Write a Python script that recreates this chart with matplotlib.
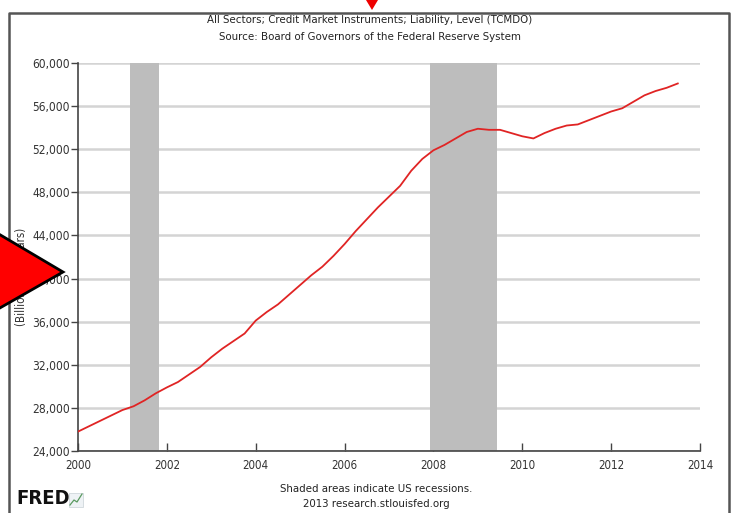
import matplotlib
matplotlib.use("Agg")
import matplotlib.pyplot as plt
from matplotlib.patches import Polygon, Rectangle
from matplotlib.lines import Line2D

# ---- data (quarterly, billions of dollars) ----
dates = [2000.0, 2000.25, 2000.5, 2000.75, 2001.0, 2001.25, 2001.5, 2001.75,
         2002.0, 2002.25, 2002.5, 2002.75, 2003.0, 2003.25, 2003.5, 2003.75,
         2004.0, 2004.25, 2004.5, 2004.75, 2005.0, 2005.25, 2005.5, 2005.75,
         2006.0, 2006.25, 2006.5, 2006.75, 2007.0, 2007.25, 2007.5, 2007.75,
         2008.0, 2008.25, 2008.5, 2008.75, 2009.0, 2009.25, 2009.5, 2009.75,
         2010.0, 2010.25, 2010.5, 2010.75, 2011.0, 2011.25, 2011.5, 2011.75,
         2012.0, 2012.25, 2012.5, 2012.75, 2013.0, 2013.25, 2013.5]
values = [25800, 26300, 26800, 27300, 27800, 28150, 28700, 29350,
          29900, 30400, 31100, 31800, 32700, 33500, 34200, 34900,
          36100, 36900, 37600, 38500, 39400, 40300, 41100, 42100,
          43200, 44400, 45500, 46600, 47600, 48600, 50000, 51100,
          51900, 52400, 53000, 53600, 53900, 53800, 53800, 53500,
          53200, 53000, 53500, 53900, 54200, 54300, 54700, 55100,
          55500, 55800, 56400, 57000, 57400, 57700, 58100]
recession_starts = [2001.17, 2007.92]
recession_ends = [2001.83, 2009.42]
y_ticks = [24000, 28000, 32000, 36000, 40000, 44000, 48000, 52000, 56000, 60000]
x_ticks = [2000, 2002, 2004, 2006, 2008, 2010, 2012, 2014]

W, H = 737, 513
fig = plt.figure(figsize=(W / 100, H / 100), dpi=100)
fig.patch.set_facecolor("white")

FONT = dict(family="DejaVu Sans", fontstretch="condensed")

ax = fig.add_axes([78 / W, (H - 451) / H, (700 - 78) / W, (451 - 63) / H])
ax.set_xlim(2000, 2014)
ax.set_ylim(24000, 60000)
ax.set_yticks(y_ticks)
ax.set_xticks(x_ticks)
ax.set_yticklabels([f"{v:,}" for v in y_ticks], **FONT)
ax.set_xticklabels([str(v) for v in x_ticks], **FONT)
ax.tick_params(axis="y", direction="out", length=5, width=1, color="#444444",
               labelsize=8.6, labelcolor="#333333", pad=1)
ax.tick_params(axis="x", direction="in", length=6, width=1, color="#444444",
               labelsize=8.3, labelcolor="#333333", pad=6)
for s in ["top", "right"]:
    ax.spines[s].set_visible(False)
for s in ["left", "bottom"]:
    ax.spines[s].set_color("#444444")
    ax.spines[s].set_linewidth(1.2)
ax.grid(axis="y", color="#d4d4d4", linewidth=1.8, zorder=0)
ax.set_axisbelow(True)

for a, b in zip(recession_starts, recession_ends):
    ax.axvspan(a, b, color="#bdbdbd", zorder=1, linewidth=0)

ax.plot(dates, values, color="#e02424", linewidth=1.3, zorder=3)

# y-axis label
fig.text(22 / W, 1 - 277 / H, "(Billions of Dollars)", rotation=90,
         ha="center", va="center", fontsize=8.3, color="#333333", **FONT)

# titles
fig.text(370 / W, 1 - 20 / H, "All Sectors; Credit Market Instruments; Liability, Level (TCMDO)",
         ha="center", va="center", fontsize=8.2, color="#222222", **FONT)
fig.text(370 / W, 1 - 37 / H, "Source: Board of Governors of the Federal Reserve System",
         ha="center", va="center", fontsize=8.2, color="#222222", **FONT)
fig.text(376 / W, 1 - 489 / H, "Shaded areas indicate US recessions.",
         ha="center", va="center", fontsize=8.2, color="#222222", **FONT)
fig.text(376 / W, 1 - 504 / H, "2013 research.stlouisfed.org",
         ha="center", va="center", fontsize=8.2, color="#222222", **FONT)

# FRED logo
fig.text(16 / W, 1 - 499 / H, "FRED", ha="left", va="center", fontsize=14.5,
         fontweight="bold", color="#111111", family="DejaVu Sans", fontstretch="condensed")
fig.add_artist(Rectangle((69 / W, 1 - 507 / H), 14 / W, 14 / H,
                         transform=fig.transFigure, facecolor="#eef2f5",
                         edgecolor="#c8d0d6", linewidth=0.5))
fig.add_artist(Line2D([70 / W, 74 / W, 77 / W, 82 / W],
                      [1 - 505 / H, 1 - 500 / H, 1 - 502 / H, 1 - 494 / H],
                      transform=fig.transFigure, color="#5a9a60", linewidth=0.9))

# border frame
fig.add_artist(Line2D([9 / W, 9 / W, 729 / W, 729 / W],
                      [0, 1 - 13 / H, 1 - 13 / H, 0],
                      transform=fig.transFigure, color="#555555", linewidth=1.8))

# red triangle markers
fig.add_artist(Polygon([(-30 / W, 1 - 217 / H), (63 / W, 1 - 272 / H), (-30 / W, 1 - 325 / H)],
                       closed=True, transform=fig.transFigure, facecolor="#ff0000",
                       edgecolor="black", linewidth=2, zorder=10))
fig.add_artist(Polygon([(366 / W, 1 - 0 / H), (378 / W, 1 - 0 / H), (372 / W, 1 - 10 / H)],
                       closed=True, transform=fig.transFigure, facecolor="#ee0000",
                       edgecolor="none", zorder=10))

fig.savefig("out.png", dpi=100)
